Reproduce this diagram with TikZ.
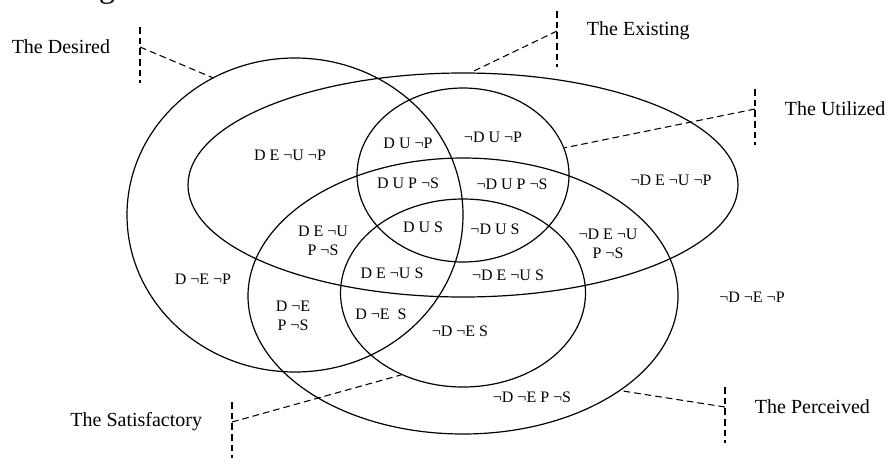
\documentclass[tikz,border=0pt]{standalone}
\usepackage{fontspec}
\setmainfont{Liberation Serif}
\usetikzlibrary{calc, positioning, shapes.geometric}

\begin{document}
\begin{tikzpicture}[x=0.75pt, y=-0.75pt, line width=0.9pt,
  conj/.style={draw, ellipse, inner sep=0pt},
  guia/.style={dash pattern=on 5pt off 3pt, line width=0.8pt},
  etq/.style={font=\fontsize{12}{14.25}\selectfont, align=center, inner sep=0pt},
  tit/.style={font=\fontsize{15}{17}\selectfont, inner sep=0pt}]
  \useasboundingbox (0,0) rectangle (887,457);
  % resto del titulo, cortado por el borde
  \node[anchor=base, font=\fontsize{24}{26}\selectfont, inner sep=0pt] (cap) at (107,-3) {g};
  % los cinco conjuntos
  \node[conj, minimum width=252pt, minimum height=235.5pt] (D) at (295,215) {};
  \node[conj, minimum width=412.5pt, minimum height=168pt] (E) at (463,185) {};
  \node[conj, minimum width=159pt, minimum height=130.5pt] (U) at (463,175) {};
  \node[conj, minimum width=183.75pt, minimum height=141pt] (S) at (463,293) {};
  \node[conj, minimum width=322.5pt, minimum height=207pt] (P) at (463,296) {};
  % marcas de los nombres
  \coordinate (mD) at (140,47);
  \coordinate (mE) at (557,31);
  \coordinate (mU) at (755,109);
  \coordinate (mS) at (232,422);
  \coordinate (mP) at (725,407);
  \foreach \n in {D,E,U,S,P}
    \draw[guia] ($(m\n)+(0,-20)$) -- ($(m\n)+(0,36)$);
  \draw[guia] (mD) -- (D.121);
  \draw[guia] (mE) -- (E.86);
  \draw[guia] (mU) -- (U.15);
  \draw[guia] (mS) -- (S.233);
  \draw[guia] (mP) -- (P.329);
  \node[tit, left=22pt of mD] (nD) {The Desired};
  \node[tit, right=22pt of mE] (nE) {The Existing};
  \node[tit, right=22pt of mU] (nU) {The Utilized};
  \node[tit, left=22pt of mS] (nS) {The Satisfactory};
  \node[tit, right=22pt of mP] (nP) {The Perceived};
  % regiones
  \node[etq] (r1) at (290,155) {D E ¬U ¬P};
  \node[etq] (r2) at (408,143) {D U ¬P};
  \node[etq] (r3) at (493,137) {¬D U ¬P};
  \node[etq] (r4) at (408,183) {D U P ¬S};
  \node[etq] (r5) at (512,184) {¬D U P ¬S};
  \node[etq] (r6) at (671,180) {¬D E ¬U ¬P};
  \node[etq] (r7) at (423,227) {D U S};
  \node[etq] (r8) at (495,229) {¬D U S};
  \node[etq] (r9) at (323,241) {D E ¬U\\P ¬S};
  \node[etq] (r10) at (392,273) {D E ¬U S};
  \node[etq] (r11) at (508,275) {¬D E ¬U S};
  \node[etq] (r12) at (608,244) {¬D E ¬U\\P ¬S};
  \node[etq] (r13) at (203,279) {D ¬E ¬P};
  \node[etq] (r14) at (293,316) {D ¬E\\P ¬S};
  \node[etq] (r15) at (381,314) {D ¬E\enspace S};
  \node[etq] (r16) at (460,331) {¬D ¬E S};
  \node[etq] (r17) at (532,397) {¬D ¬E P ¬S};
  \node[etq] (r18) at (752,297) {¬D ¬E ¬P};
\end{tikzpicture}
\end{document}
